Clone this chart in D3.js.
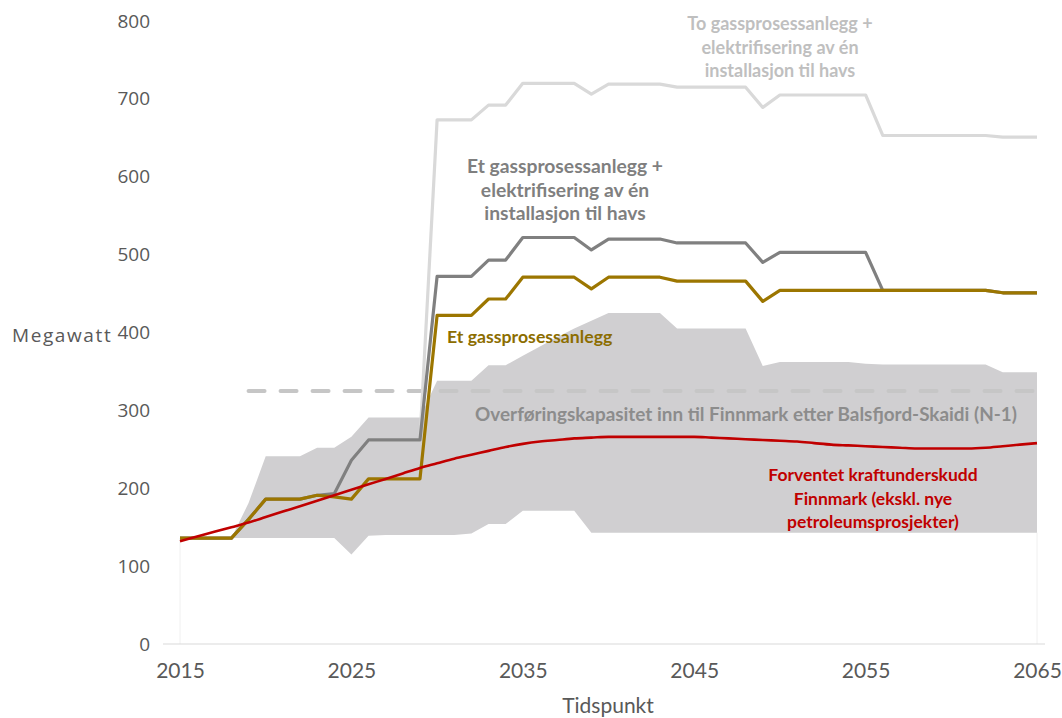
<!DOCTYPE html>
<html>
<head>
<meta charset="utf-8">
<script src="https://cdn.jsdelivr.net/npm/d3@7"></script>
<style>
  html, body { margin: 0; padding: 0; background: #fff; }
  svg { display: block; }
</style>
</head>
<body>
<svg id="chart" width="1062" height="718"></svg>
<script>
// ---------- DATA ----------
const years = d3.range(2015, 2066);

// Et gassprosessanlegg (gold)
const gassEn = [136,136,136,136,160,186,186,186,191,189,186,212,212,212,212,422,422,422,443,443,471,471,471,471,456,471,471,471,471,466,466,466,466,466,440,454,454,454,454,454,454,454,454,454,454,454,454,454,451,451,451];

// Et gassprosessanlegg + elektrifisering av én installasjon til havs (dark grey)
const gassEnElektr = [136,136,136,136,160,186,186,186,191,193,236,262,262,262,262,472,472,472,493,493,522,522,522,522,506,520,520,520,520,515,515,515,515,515,490,503,503,503,503,503,503,454,454,454,454,454,454,454,451,451,451];

// To gassprosessanlegg + elektrifisering av én installasjon til havs (light grey)
const gassTo = [136,136,136,136,160,186,186,186,191,193,236,262,262,262,262,673,673,673,692,692,720,720,720,720,706,719,719,719,719,715,715,715,715,715,689,705,705,705,705,705,705,653,653,653,653,653,653,653,651,651,651];

// Forventet kraftunderskudd Finnmark (red)
const underskudd = [132,138,144,150,156,163,170,177,184,191,198,205,212,219,226,232,238,243,248,253,257,260,262,264,265,266,266,266,266,266,266,265,264,263,262,261,260,258,256,255,254,253,252,251,251,251,251,252,254,256,258];

// Grey uncertainty band
const baandLav = [136,136,136,136,136,136,136,136,136,136,115,139,140,140,140,140,140,142,154,154,171,171,171,171,143,143,143,143,143,143,143,143,143,143,143,143,143,143,143,143,143,143,143,143,143,143,143,143,143,143,143];
const baandHoy = [136,136,136,136,181,241,241,241,252,252,266,291,291,291,291,338,338,338,358,358,370,382,394,405,415,425,425,425,425,405,405,405,405,405,357,362,362,362,362,362,360,359,359,359,359,359,359,359,349,349,349];

// Transfer capacity (dashed)
const kapasitetAar = [2019, 2065];
const kapasitet = 325;

const yTicks = [0,100,200,300,400,500,600,700,800];
const xTicks = [2015,2025,2035,2045,2055,2065];

// ---------- CHART ----------
const svg = d3.select("#chart");
const x = d3.scaleLinear().domain([2015, 2065]).range([180, 1037]);
const y = d3.scaleLinear().domain([0, 800]).range([644, 21]);

const rows = years.map((yr, i) => ({
  yr, a: gassEn[i], b: gassEnElektr[i], c: gassTo[i], r: underskudd[i], lo: baandLav[i], hi: baandHoy[i]
}));

// faint edges of the bottom (invisible) stacked area
svg.append("g").selectAll("line").data([rows[0], rows[rows.length-1]]).join("line")
  .attr("x1", d => x(d.yr)).attr("x2", d => x(d.yr))
  .attr("y1", d => y(d.lo)).attr("y2", y(0))
  .attr("stroke", "#f0f0f0").attr("stroke-width", 1);

// band
svg.append("path").datum(rows)
  .attr("d", d3.area().x(d => x(d.yr)).y0(d => y(d.lo)).y1(d => y(d.hi)))
  .attr("fill", "#d0cfd1");

// x axis line
svg.append("line")
  .attr("x1", 163).attr("x2", 1045)
  .attr("y1", y(0)).attr("y2", y(0))
  .attr("stroke", "#d9d9d9").attr("stroke-width", 1);

// dashed capacity line
svg.append("line")
  .attr("x1", x(kapasitetAar[0])).attr("x2", x(kapasitetAar[1]))
  .attr("y1", y(kapasitet)).attr("y2", y(kapasitet))
  .attr("stroke", "#c6c6c6").attr("stroke-width", 4)
  .attr("stroke-dasharray", "16,16").attr("stroke-linecap", "round");

const line = key => d3.line().x(d => x(d.yr)).y(d => y(d[key]));

svg.append("path").datum(rows).attr("d", line("c"))
  .attr("fill", "none").attr("stroke", "#d9d9d9").attr("stroke-width", 3.2).attr("stroke-linejoin", "round");
svg.append("path").datum(rows).attr("d", line("b"))
  .attr("fill", "none").attr("stroke", "#808080").attr("stroke-width", 3.2).attr("stroke-linejoin", "round");
svg.append("path").datum(rows).attr("d", line("a"))
  .attr("fill", "none").attr("stroke", "#9c7600").attr("stroke-width", 3.2).attr("stroke-linejoin", "round");
svg.append("path").datum(rows)
  .attr("d", d3.line().curve(d3.curveMonotoneX).x(d => x(d.yr)).y(d => y(d.r)))
  .attr("fill", "none").attr("stroke", "#c00000").attr("stroke-width", 2.6);

// axes
const yAxis = svg.append("g").attr("transform", "translate(150,0)")
  .call(d3.axisLeft(y).tickValues(yTicks).tickSize(0).tickPadding(0));
yAxis.select(".domain").remove();
yAxis.selectAll("text").attr("font-family", "Open Sans").attr("font-size", 19).attr("fill", "#595959");

const xAxis = svg.append("g").attr("transform", `translate(0,${y(0)})`)
  .call(d3.axisBottom(x).tickValues(xTicks).tickFormat(d3.format("d")).tickSize(0).tickPadding(19));
xAxis.select(".domain").remove();
xAxis.selectAll("text").attr("font-family", "Lato").attr("font-size", 21).attr("fill", "#595959");

svg.append("text").text("Megawatt").attr("x", 12).attr("y", 342)
  .attr("font-family", "Open Sans").attr("font-size", 19).attr("letter-spacing", 1.6).attr("fill", "#595959");
svg.append("text").text("Tidspunkt").attr("x", 608).attr("y", 713).attr("text-anchor", "middle")
  .attr("font-family", "Lato").attr("font-size", 21).attr("fill", "#595959");

// labels
function label(lines, cx, y0, color, size, anchor) {
  const t = svg.append("text").attr("font-family", "Lato").attr("font-weight", 700)
    .attr("font-size", size).attr("fill", color).attr("text-anchor", anchor || "middle");
  lines.forEach((s, i) => t.append("tspan").attr("x", cx).attr("y", y0 + i * 23.5).text(s));
}
label(["To gassprosessanlegg +", "elektrifisering av én", "installasjon til havs"], 780, 30, "#bfbfbf", 18);
label(["Et gassprosessanlegg +", "elektrifisering av én", "installasjon til havs"], 565, 173, "#7f7f7f", 19.3);
label(["Et gassprosessanlegg"], 447, 343, "#8c6d00", 17.7, "start");
label(["Overføringskapasitet inn til Finnmark etter Balsfjord-Skaidi (N-1)"], 746, 421, "#8c8c8c", 18.9);
label(["Forventet kraftunderskudd", "Finnmark (ekskl. nye", "petroleumsprosjekter)"], 873, 481, "#c00000", 17.5);
</script>
</body>
</html>
